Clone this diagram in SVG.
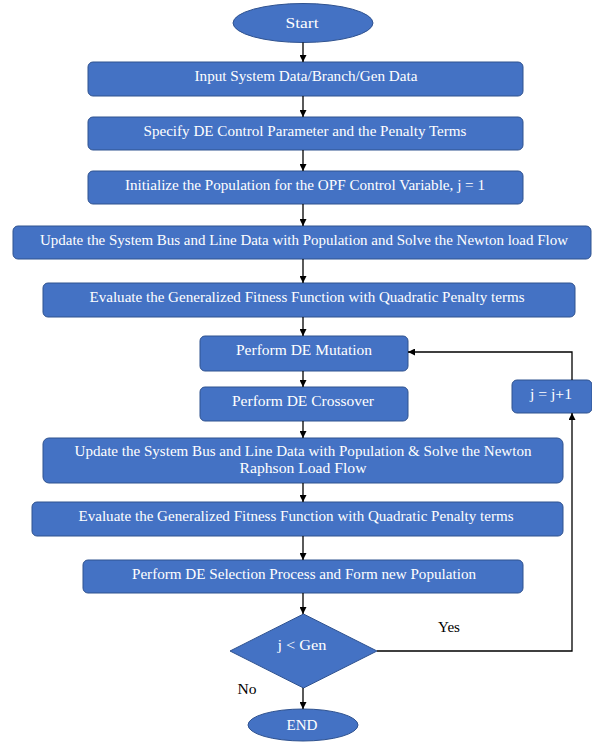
<svg xmlns="http://www.w3.org/2000/svg" width="592" height="742" viewBox="0 0 592 742">
<defs>
<marker id="ah" viewBox="0 0 10 10" refX="10" refY="5" markerWidth="7" markerHeight="7" markerUnits="userSpaceOnUse" orient="auto">
<path d="M0,0 L10,5 L0,10 z" fill="#000"/>
</marker>
<style>
.n{fill:#4472C4;stroke:#2F528F;stroke-width:1}
text{font-family:'Liberation Serif','DejaVu Serif',serif;font-size:14px;text-anchor:middle}
.t{fill:#fff}
.l{fill:#000}
.c{fill:none;stroke:#000;stroke-width:1.3}
.a{marker-end:url(#ah)}
</style>
</defs>
<rect width="592" height="742" fill="#fff"/>
<g id="start"><ellipse class="n" cx="303" cy="23" rx="70" ry="19.5"/><text class="t" x="302" y="28" textLength="33" lengthAdjust="spacingAndGlyphs">Start</text></g>
<g id="input"><rect class="n" x="88" y="62" width="435" height="34" rx="5"/><text class="t" x="306" y="81" textLength="223" lengthAdjust="spacingAndGlyphs">Input System Data/Branch/Gen Data</text></g>
<g id="specify"><rect class="n" x="88" y="117" width="435" height="33" rx="5"/><text class="t" x="305" y="136" textLength="323" lengthAdjust="spacingAndGlyphs">Specify DE Control Parameter and the Penalty Terms</text></g>
<g id="init"><rect class="n" x="88" y="171" width="435" height="33" rx="5"/><text class="t" x="305" y="190" textLength="360" lengthAdjust="spacingAndGlyphs">Initialize the Population for the OPF Control Variable, j = 1</text></g>
<g id="update1"><rect class="n" x="13" y="226" width="578" height="33" rx="5"/><text class="t" x="304" y="245" textLength="528" lengthAdjust="spacingAndGlyphs">Update the System Bus and Line Data with Population and Solve the Newton load Flow</text></g>
<g id="eval1"><rect class="n" x="43" y="283" width="532" height="34" rx="5"/><text class="t" x="307" y="302" textLength="435" lengthAdjust="spacingAndGlyphs">Evaluate the Generalized Fitness Function with Quadratic Penalty terms</text></g>
<g id="mutation"><rect class="n" x="200" y="336" width="208" height="35" rx="5"/><text class="t" x="304" y="355" textLength="136" lengthAdjust="spacingAndGlyphs">Perform DE Mutation</text></g>
<g id="crossover"><rect class="n" x="200" y="387" width="208" height="34" rx="5"/><text class="t" x="303" y="406" textLength="142" lengthAdjust="spacingAndGlyphs">Perform DE Crossover</text></g>
<g id="update2"><rect class="n" x="43" y="438" width="520" height="45" rx="6"/><text class="t" x="303" y="456" textLength="457" lengthAdjust="spacingAndGlyphs">Update the System Bus and Line Data with Population &amp; Solve the Newton</text><text class="t" x="303" y="473" textLength="127" lengthAdjust="spacingAndGlyphs">Raphson Load Flow</text></g>
<g id="eval2"><rect class="n" x="32" y="502" width="531" height="34" rx="5"/><text class="t" x="296" y="521" textLength="435" lengthAdjust="spacingAndGlyphs">Evaluate the Generalized Fitness Function with Quadratic Penalty terms</text></g>
<g id="selection"><rect class="n" x="83" y="560" width="440" height="33" rx="5"/><text class="t" x="304" y="579" textLength="344" lengthAdjust="spacingAndGlyphs">Perform DE Selection Process and Form new Population</text></g>
<g id="decision"><polygon class="n" points="303.5,614 377,651 303.5,688 230,651"/><text class="t" x="302" y="650" textLength="49" lengthAdjust="spacingAndGlyphs">j &lt; Gen</text></g>
<g id="incr"><rect class="n" x="512" y="380" width="80" height="33" rx="5"/><text class="t" x="551" y="399" textLength="42" lengthAdjust="spacingAndGlyphs">j = j+1</text></g>
<g id="end"><ellipse class="n" cx="303" cy="725" rx="55" ry="16"/><text class="t" x="302" y="730" textLength="31" lengthAdjust="spacingAndGlyphs">END</text></g>
<g id="connectors">
<line class="c a" x1="303" y1="42.5" x2="303" y2="62"/>
<line class="c a" x1="303" y1="96" x2="303" y2="117"/>
<line class="c a" x1="303" y1="150" x2="303" y2="171"/>
<line class="c a" x1="303" y1="204" x2="303" y2="226"/>
<line class="c a" x1="303" y1="259" x2="303" y2="283"/>
<line class="c a" x1="303" y1="317" x2="303" y2="336"/>
<line class="c a" x1="303" y1="371" x2="303" y2="387"/>
<line class="c a" x1="303" y1="421" x2="303" y2="438"/>
<line class="c a" x1="303" y1="483" x2="303" y2="502"/>
<line class="c a" x1="303" y1="536" x2="303" y2="560"/>
<line class="c a" x1="303" y1="593" x2="303" y2="614"/>
<line class="c a" x1="303" y1="688" x2="303" y2="709"/>
<polyline class="c a" points="377,651 572,651 572,413"/>
<polyline class="c a" points="572,380 572,352 408,352"/>
<text class="l" x="449" y="632" textLength="22" lengthAdjust="spacingAndGlyphs">Yes</text>
<text class="l" x="247" y="694" textLength="19" lengthAdjust="spacingAndGlyphs">No</text>
</g>
</svg>
